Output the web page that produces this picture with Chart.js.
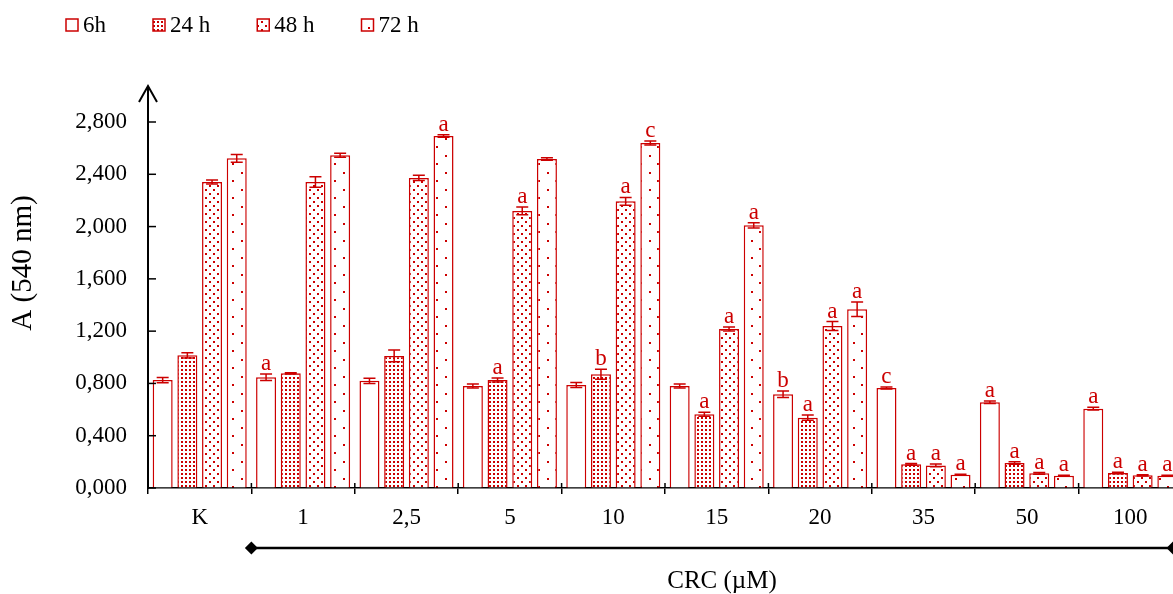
<!DOCTYPE html>
<html>
<head>
<meta charset="utf-8">
<script src="https://cdn.jsdelivr.net/npm/chart.js@4/dist/chart.umd.min.js"></script>
<style>
  html, body { margin: 0; padding: 0; overflow: hidden; background: #fff; }
  #wrap { width: 1200px; height: 594px; }
</style>
</head>
<body>
<div id="wrap"><canvas id="chart" width="1200" height="594"></canvas></div>
<script>
const categories = ["K", "1", "2,5", "5", "10", "15", "20", "35", "50", "100"];
const seriesLabels = ["6h", "24 h", "48 h", "72 h"];
const yTicks = [0, 0.4, 0.8, 1.2, 1.6, 2.0, 2.4, 2.8];

const values6h  = [0.826, 0.847, 0.820, 0.780, 0.788, 0.780, 0.717, 0.765, 0.656, 0.607];
const values24h = [1.015, 0.877, 1.010, 0.826, 0.870, 0.564, 0.538, 0.181, 0.191, 0.115];
const values48h = [2.341, 2.341, 2.372, 2.120, 2.193, 1.216, 1.239, 0.173, 0.112, 0.097];
const values72h = [2.522, 2.545, 2.693, 2.517, 2.640, 2.010, 1.367, 0.102, 0.094, 0.094];

const err6h  = [0.020, 0.025, 0.020, 0.015, 0.020, 0.015, 0.025, 0.008, 0.010, 0.010];
const err24h = [0.020, 0.005, 0.045, 0.015, 0.038, 0.015, 0.020, 0.006, 0.010, 0.006];
const err48h = [0.015, 0.040, 0.020, 0.030, 0.030, 0.015, 0.034, 0.010, 0.006, 0.005];
const err72h = [0.030, 0.015, 0.010, 0.010, 0.015, 0.020, 0.055, 0.003, 0.004, 0.004];

const letters6h  = ["", "a", "", "", "", "", "b", "c", "a", "a"];
const letters24h = ["", "", "", "a", "b", "a", "a", "a", "a", "a"];
const letters48h = ["", "", "", "a", "a", "a", "a", "a", "a", "a"];
const letters72h = ["", "", "a", "", "c", "a", "a", "a", "a", "a"];

const RED = "#cc0000";
const SERIF = "'Liberation Serif', 'Times New Roman', serif";

// dotted fills
function dots(size, pts, dot) {
  const c = document.createElement("canvas");
  c.width = size; c.height = size;
  const g = c.getContext("2d");
  g.fillStyle = "#fff";
  g.fillRect(0, 0, size, size);
  g.fillStyle = RED;
  pts.forEach(p => g.fillRect(p[0], p[1], dot, dot));
  return g.createPattern(c, "repeat");
}
const fill6h = "#ffffff";
const fill24h = dots(4, [[1, 1]], 2);
const fill48h = dots(8, [[1, 1], [5, 5]], 2);
const fill72h = dots(17, [[3, 2], [11, 10]], 2);

const fills = [fill6h, fill24h, fill48h, fill72h];
const allValues = [values6h, values24h, values48h, values72h];
const allErrors = [err6h, err24h, err48h, err72h];
const allLetters = [letters6h, letters24h, letters48h, letters72h];

const decorations = {
  id: "decorations",
  afterDatasetsDraw(chart) {
    const ctx = chart.ctx;
    const y = chart.scales.y;
    ctx.save();
    chart.data.datasets.forEach((ds, i) => {
      const meta = chart.getDatasetMeta(i);
      meta.data.forEach((bar, j) => {
        const v = allValues[i][j], e = allErrors[i][j];
        const top = y.getPixelForValue(v + e);
        const bot = y.getPixelForValue(v - e);
        ctx.strokeStyle = RED;
        ctx.lineWidth = 1.5;
        ctx.beginPath();
        ctx.moveTo(bar.x, top); ctx.lineTo(bar.x, bot);
        ctx.moveTo(bar.x - 6, top); ctx.lineTo(bar.x + 6, top);
        ctx.moveTo(bar.x - 6, bot); ctx.lineTo(bar.x + 6, bot);
        ctx.stroke();
        const t = allLetters[i][j];
        if (t) {
          ctx.fillStyle = RED;
          ctx.font = "23px " + SERIF;
          ctx.textAlign = "center";
          ctx.textBaseline = "alphabetic";
          ctx.fillText(t, bar.x, top - 4);
        }
      });
    });
    ctx.restore();
  },
  afterDraw(chart) {
    const ctx = chart.ctx;
    const area = chart.chartArea;
    const x = chart.scales.x, y = chart.scales.y;
    const ax = area.left;
    ctx.save();
    ctx.strokeStyle = "#000";
    ctx.fillStyle = "#000";
    // y axis extension with open arrow
    ctx.lineWidth = 2;
    ctx.beginPath();
    ctx.moveTo(ax, area.top); ctx.lineTo(ax, 86);
    ctx.stroke();
    ctx.beginPath();
    ctx.moveTo(ax - 9, 102); ctx.lineTo(ax, 86); ctx.lineTo(ax + 9, 102);
    ctx.stroke();
    // inward y ticks
    ctx.lineWidth = 1.5;
    y.ticks.forEach((t, k) => {
      const py = y.getPixelForTick(k);
      ctx.beginPath();
      ctx.moveTo(ax, py); ctx.lineTo(ax + 8, py);
      ctx.stroke();
    });
    // small stubs of x ticks above the axis
    for (let k = 0; k <= categories.length; k++) {
      const px = x.left + k * (x.width / categories.length);
      ctx.beginPath();
      ctx.moveTo(px, area.bottom - 5); ctx.lineTo(px, area.bottom);
      ctx.stroke();
    }
    // concentration bracket
    const segW = x.width / categories.length;
    const x0 = x.left + segW;
    const x1 = area.right - 9;
    const by = 548;
    ctx.lineWidth = 2.5;
    ctx.beginPath();
    ctx.moveTo(x0, by); ctx.lineTo(x1, by);
    ctx.stroke();
    [x0, x1].forEach(cx => {
      ctx.beginPath();
      ctx.moveTo(cx - 6.5, by); ctx.lineTo(cx, by - 6.5);
      ctx.lineTo(cx + 6.5, by); ctx.lineTo(cx, by + 6.5);
      ctx.closePath();
      ctx.fill();
    });
    // axis titles
    ctx.font = "25px " + SERIF;
    ctx.textAlign = "center";
    ctx.textBaseline = "middle";
    ctx.fillText("CRC (\u00b5M)", 722, 581);
    ctx.save();
    ctx.font = "29px " + SERIF;
    ctx.translate(23, 263);
    ctx.rotate(-Math.PI / 2);
    ctx.fillText("A (540 nm)", 0, 0);
    ctx.restore();
    // legend
    ctx.font = "23px " + SERIF;
    ctx.textAlign = "left";
    ctx.textBaseline = "middle";
    let lx = 66;
    chart.data.datasets.forEach((ds, i) => {
      ctx.fillStyle = ds.backgroundColor;
      ctx.fillRect(lx, 19, 12, 12);
      ctx.strokeStyle = RED;
      ctx.lineWidth = 1.5;
      ctx.strokeRect(lx, 19, 12, 12);
      ctx.fillStyle = "#000";
      ctx.fillText(ds.label, lx + 17, 26);
      lx += 17 + ctx.measureText(ds.label).width + 47;
    });
    ctx.restore();
  }
};

new Chart(document.getElementById("chart"), {
  type: "bar",
  data: {
    labels: categories,
    datasets: seriesLabels.map((lab, i) => ({
      label: lab,
      data: allValues[i],
      backgroundColor: fills[i],
      borderColor: RED,
      borderWidth: 1.5,
      categoryPercentage: 0.955,
      barPercentage: 0.81
    }))
  },
  options: {
    responsive: false,
    animation: false,
    layout: { padding: { top: 122, left: 0, right: 18, bottom: 0 } },
    plugins: {
      legend: { display: false },
      tooltip: { enabled: false }
    },
    scales: {
      x: {
        afterFit(scale) { scale.height = 106; },
        grid: { display: true, drawOnChartArea: false, drawTicks: true, tickLength: 6, color: "#000", lineWidth: 1.5 },
        border: { display: true, color: "#000", width: 1.5 },
        ticks: { color: "#000", font: { family: SERIF, size: 23 }, padding: 10, maxRotation: 0, autoSkip: false }
      },
      y: {
        min: 0,
        max: 2.8,
        afterFit(scale) { scale.width = 148; },
        afterBuildTicks(scale) { scale.ticks = yTicks.map(v => ({ value: v })); },
        grid: { display: true, drawOnChartArea: false, drawTicks: false },
        border: { display: true, color: "#000", width: 2 },
        ticks: {
          color: "#000",
          font: { family: SERIF, size: 23 },
          padding: 21,
          callback: v => Number(v).toFixed(3).replace(".", ",")
        }
      }
    }
  },
  plugins: [decorations]
});
</script>
</body>
</html>
